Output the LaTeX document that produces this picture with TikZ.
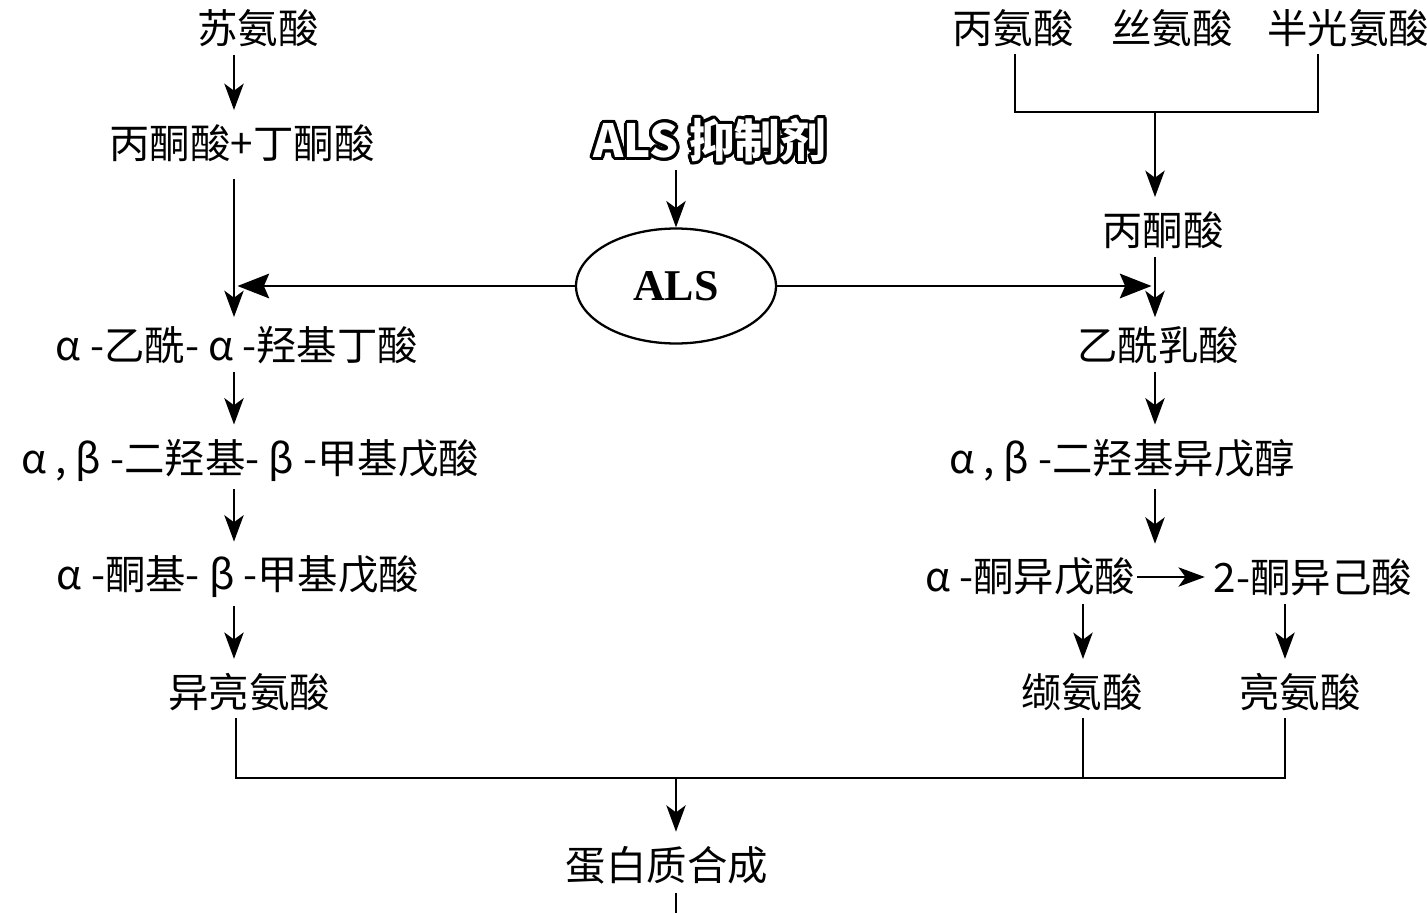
\documentclass[tikz,border=0pt]{standalone}
\usepackage{fontspec}
\newfontfamily\cjk{Noto Sans CJK SC}
\newfontfamily\serifb{Liberation Serif}
\usetikzlibrary{arrows.meta,shapes.geometric,calc}
\begin{document}
\begin{tikzpicture}[x=0.02cm,y=-0.02cm,
  lbl/.style={font=\cjk\fontsize{23}{27}\selectfont, inner sep=0pt},
  inhb/.style={font=\cjk\bfseries\fontsize{26}{31}\selectfont, inner sep=0pt},
  ln/.style={line width=1.3pt},
  arr/.style={ln, -{Stealth[length=15pt,width=11pt,inset=4pt]}, shorten <=4.5pt, shorten >=8pt},
  bigarr/.style={ln, -{Stealth[length=18pt,width=14pt,inset=3pt]}, shorten >=2pt}]
\useasboundingbox (0,0) rectangle (1427,913);

% left column
\node[lbl] (thr)  at (258,28)  {苏氨酸};
\node[lbl] (pp)   at (242,143) {丙酮酸+丁酮酸};
\node[lbl] (aahb) at (237,345) {α -乙酰- α -羟基丁酸};
\node[lbl] (dhmv) at (250,460) {α , β -二羟基- β -甲基戊酸};
\node[lbl] (kmv)  at (238,577) {α -酮基- β -甲基戊酸};
\node[lbl] (ile)  at (249,692) {异亮氨酸};

% right column
\node[lbl] (ala)  at (1013,28) {丙氨酸};
\node[lbl] (ser)  at (1172,28) {丝氨酸};
\node[lbl] (cys)  at (1348,28) {半光氨酸};
\node[lbl] (pyr)  at (1163,230) {丙酮酸};
\node[lbl] (acl)  at (1158,345) {乙酰乳酸};
\node[lbl] (dhiv) at (1122,460) {α , β -二羟基异戊醇};
\node[lbl] (kiv)  at (1030,577) {α -酮异戊酸};
\node[lbl] (kic)  at (1313,577) {2-酮异己酸};
\node[lbl] (val)  at (1082,692) {缬氨酸};
\node[lbl] (leu)  at (1300,692) {亮氨酸};

\node[lbl] (prot) at (667,865) {蛋白质合成};

% ALS and inhibitor
\node[ellipse, draw, ln, minimum width=4cm, minimum height=2.3cm, inner sep=0pt,
      font=\serifb\bfseries\fontsize{25}{29}\selectfont] (als) at (676,286) {ALS};
\foreach \a in {0,20,...,340}
  \node[inhb, text=black] (inh\a) at ($(710,140)+(\a:1.7pt)$) {ALS 抑制剂};
\node[inhb, text=white] (inh) at (710,140) {ALS 抑制剂};

% coordinates of columns and junctions
\coordinate (Lx) at (234,0);
\coordinate (Rx) at (1155,0);
\coordinate (Vx) at (1083,0);
\coordinate (Ex) at (1285,0);
\coordinate (ja) at (1015,112);
\coordinate (jc) at (1318,112);
\coordinate (jm) at (1155,112);
\coordinate (b1) at (236,778);
\coordinate (b2) at (1083,778);
\coordinate (b3) at (1285,778);
\coordinate (bm) at (676,778);
\coordinate (bot) at (676,913);

% left connectors
\draw[arr] (thr.south -| Lx) -- (pp.north -| Lx);
\draw[arr, shorten <=10pt, shorten >=5pt] (pp.south -| Lx) -- (aahb.north -| Lx);
\draw[arr] (aahb.south -| Lx) -- (dhmv.north -| Lx);
\draw[arr] (dhmv.south -| Lx) -- (kmv.north -| Lx);
\draw[arr] (kmv.south -| Lx) -- (ile.north -| Lx);

% right connectors
\draw[ln, shorten <=4pt, shorten >=4pt] (ja |- ala.south) -- (ja) -- (jc) -- (jc |- cys.south);
\draw[arr, shorten <=0pt] (jm) -- (pyr.north -| Rx);
\draw[arr, shorten >=5pt] (pyr.south -| Rx) -- (acl.north -| Rx);
\draw[arr] (acl.south -| Rx) -- (dhiv.north -| Rx);
\draw[arr] (dhiv.south -| Rx) -- (kiv.north -| Rx);
\draw[arr, shorten <=1pt, shorten >=5pt] (kiv.east) -- (kic.west);
\draw[arr] (kiv.south -| Vx) -- (val.north -| Vx);
\draw[arr] (kic.south -| Ex) -- (leu.north -| Ex);

% ALS arrows
\draw[arr, shorten >=0pt] (inh.south -| als.north) -- (als.north);
\draw[bigarr] (als.west) -- (als.west -| Lx);
\draw[bigarr] (als.east) -- (als.east -| Rx);

% bottom junction
\draw[ln, shorten <=4pt, shorten >=4pt] (b1 |- ile.south) -- (b1) -- (b3) -- (b3 |- leu.south);
\draw[ln, shorten <=4pt] (b2 |- val.south) -- (b2);
\draw[arr, shorten <=0pt] (bm) -- (prot.north -| bm);
\draw[ln, shorten <=5pt] (prot.south -| bm) -- (bot);
\end{tikzpicture}
\end{document}
